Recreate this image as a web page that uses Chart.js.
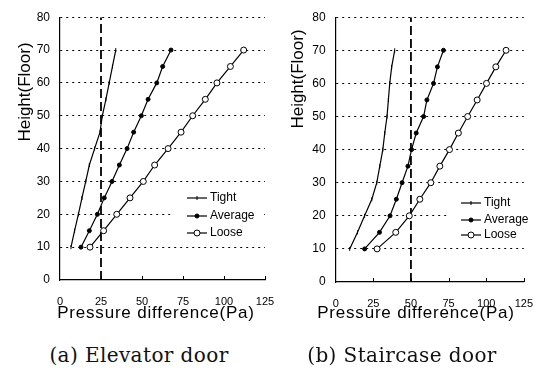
<!DOCTYPE html>
<html lang="en">
<head>
<meta charset="UTF-8">
<title>Pressure difference by floor</title>
<script src="https://cdn.jsdelivr.net/npm/chart.js"></script>
<style>
  body {
    margin: 0;
    background: #fff;
    width: 537px;
    height: 370px;
    overflow: hidden;
    position: relative;
  }
  .panel { position: absolute; top: 0; }
  #left-panel { left: 0; }
  #right-panel { left: 268px; }
  .caption {
    position: absolute;
    top: 343px;
    transform: translateX(-50%);
    font-family: "DejaVu Serif", serif;
    font-size: 20px;
    letter-spacing: 0.4px;
    color: #111;
    white-space: nowrap;
  }
</style>
</head>
<body>
  <div class="panel" id="left-panel"><canvas id="elevator-chart" width="290" height="335"></canvas></div>
  <div class="panel" id="right-panel"><canvas id="staircase-chart" width="280" height="335"></canvas></div>
  <div class="caption" style="left:139px">(a) Elevator door</div>
  <div class="caption" style="left:402px">(b) Staircase door</div>
<script>
  // floors where the pressure was evaluated
  const floors = [10, 15, 20, 25, 30, 35, 40, 45, 50, 55, 60, 65, 70];
  const xTicks = [0, 25, 50, 75, 100, 125];
  const yTicks = [0, 10, 20, 30, 40, 50, 60, 70, 80];
  const seriesNames = ['Tight', 'Average', 'Loose'];

  // (a) elevator door, Pa
  const elevTight = [6.7, 8.9, 11.2, 13.4, 15.7, 17.9, 21.1, 24.4, 25.8, 28, 30, 32, 34];
  const elevAverage = [12.8, 17.9, 22.8, 27, 31.7, 36.2, 40.9, 44.9, 49.6, 53.7, 59, 62.6, 67.7];
  const elevLoose = [18.3, 26.6, 34.6, 42.7, 50.8, 57.7, 65.9, 73.8, 80.9, 88.6, 95.7, 103.9, 112];
  const elevLimit = 25;

  // (b) staircase door, Pa
  const stairTight = [9.3, 14.5, 19.2, 24, 27.3, 29.3, 31.3, 32.6, 34.1, 35, 35.9, 37.2, 39.2];
  const stairAverage = [19.2, 29.1, 36.1, 40.3, 44.1, 48, 50.4, 53.5, 58.4, 60.6, 65, 67.6, 71.6];
  const stairLoose = [27.5, 39.9, 48.9, 55.9, 63.2, 69.2, 75.6, 81.5, 87.7, 94, 100.2, 106.4, 113.2];
  const stairLimit = 50;

  const yTitle = 'Height(Floor)';
  const xTitle = 'Pressure difference(Pa)';
  const sans = '"Liberation Sans", Arial, sans-serif';

  const styles = [
    { pointStyle: 'line', rotation: 90, pointRadius: 2, pointBackgroundColor: '#000', pointBorderWidth: 1 },
    { pointStyle: 'circle', pointRadius: 2, pointBackgroundColor: '#000', pointBorderWidth: 1 },
    { pointStyle: 'circle', pointRadius: 3, pointBackgroundColor: '#fff', pointBorderWidth: 1 }
  ];

  function toPoints(values) {
    return values.map((v, i) => ({ x: v, y: floors[i] }));
  }

  // titles, inner x tick marks and the boxed legend
  const overlay = {
    id: 'overlay',
    afterDraw(chart) {
      const o = chart.options.plugins.overlay;
      const ctx = chart.ctx;
      const xs = chart.scales.x;
      const ys = chart.scales.y;
      ctx.save();
      ctx.strokeStyle = '#000';
      ctx.fillStyle = '#000';
      ctx.lineWidth = 1;
      xTicks.forEach(v => {
        if (v === 0) return;
        const px = Math.round(xs.getPixelForValue(v)) + 0.5;
        ctx.beginPath();
        ctx.moveTo(px, ys.bottom);
        ctx.lineTo(px, ys.bottom - 4);
        ctx.stroke();
      });

      ctx.font = '17px ' + sans;
      ctx.textAlign = 'center';
      ctx.textBaseline = 'middle';
      ctx.save();
      ctx.translate(o.yTitleX, o.yTitleY);
      ctx.rotate(-Math.PI / 2);
      ctx.fillText(yTitle, 0, 0);
      ctx.restore();
      ctx.save();
      ctx.font = '17px ' + sans;
      if ('letterSpacing' in ctx) ctx.letterSpacing = '0.8px';
      ctx.fillText(xTitle, o.xTitleX, o.xTitleY);
      ctx.restore();

      // legend
      const lg = o.legend;
      ctx.fillStyle = '#fff';
      ctx.fillRect(lg.x, lg.y, lg.w, lg.h);
      ctx.font = '12px ' + sans;
      ctx.textAlign = 'left';
      seriesNames.forEach((name, i) => {
        const ds = chart.data.datasets[i];
        const ry = lg.rows[i];
        ctx.strokeStyle = '#000';
        ctx.lineWidth = 1.2;
        ctx.beginPath();
        ctx.moveTo(lg.lineX, ry);
        ctx.lineTo(lg.lineX + 20, ry);
        ctx.stroke();
        ctx.fillStyle = ds.pointBackgroundColor;
        ctx.lineWidth = 1;
        Chart.helpers.drawPoint(ctx, {
          pointStyle: ds.pointStyle,
          rotation: ds.rotation || 0,
          radius: ds.pointRadius,
          borderWidth: 1
        }, lg.lineX + 10, ry);
        ctx.fillStyle = '#000';
        ctx.fillText(name, lg.lineX + 23, ry);
      });
      ctx.restore();
    }
  };

  function makeChart(canvasId, series, limit, geo) {
    const datasets = series.map((vals, i) => Object.assign({
      label: seriesNames[i],
      data: toPoints(vals),
      borderColor: '#000',
      pointBorderColor: '#000',
      borderWidth: 1.2,
      tension: 0
    }, styles[i]));
    datasets.push({
      label: 'limit',
      data: [{ x: limit, y: 0 }, { x: limit, y: 80 }],
      borderColor: '#000',
      borderWidth: 1.8,
      borderDash: [9, 4],
      pointRadius: 0
    });

    return new Chart(document.getElementById(canvasId), {
      type: 'line',
      data: { datasets },
      plugins: [overlay],
      options: {
        responsive: false,
        animation: false,
        layout: { padding: { top: geo.top, right: geo.right, left: 0, bottom: 0 } },
        plugins: {
          legend: { display: false },
          tooltip: { enabled: false },
          overlay: geo.overlay
        },
        scales: {
          x: {
            type: 'linear',
            min: 0,
            max: 125,
            afterFit: s => { s.height = geo.xHeight; },
            afterBuildTicks: s => { s.ticks = xTicks.map(v => ({ value: v })); },
            grid: { display: false, drawTicks: false },
            border: { display: true, color: '#000', width: 1.2 },
            ticks: { color: '#000', font: { family: sans, size: 11 }, padding: 15, maxRotation: 0 }
          },
          y: {
            type: 'linear',
            min: 0,
            max: 80,
            afterFit: s => { s.width = geo.yWidth; },
            afterBuildTicks: s => { s.ticks = yTicks.map(v => ({ value: v })); },
            grid: {
              drawTicks: false,
              color: c => c.tick && c.tick.value === 0 ? 'rgba(0,0,0,0)' : '#000',
              lineWidth: 1
            },
            border: { display: true, color: '#000', width: 1.2, dash: [2, 4] },
            ticks: { color: '#000', font: { family: sans, size: 12 }, padding: 10 }
          }
        }
      }
    });
  }

  makeChart('elevator-chart', [elevTight, elevAverage, elevLoose], elevLimit, {
    top: 13, right: 25, yWidth: 60, xHeight: 55,
    overlay: {
      yTitleX: 25, yTitleY: 92, xTitleX: 156, xTitleY: 313,
      legend: { x: 172, y: 189, w: 90, h: 52, lineX: 187, rows: [198, 216, 233] }
    }
  });

  makeChart('staircase-chart', [stairTight, stairAverage, stairLoose], stairLimit, {
    top: 11, right: 24, yWidth: 67.7, xHeight: 53,
    overlay: {
      yTitleX: 30, yTitleY: 79, xTitleX: 148, xTitleY: 313,
      legend: { x: 182, y: 191, w: 87, h: 52, lineX: 193, rows: [203, 220, 235] }
    }
  });
</script>
</body>
</html>
